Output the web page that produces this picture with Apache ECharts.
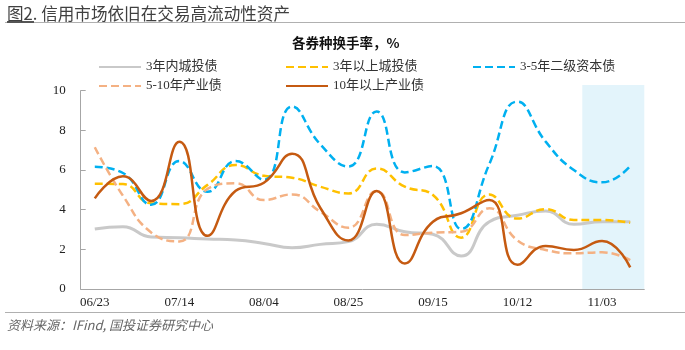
<!DOCTYPE html>
<html>
<head>
<meta charset="utf-8">
<script src="https://cdn.jsdelivr.net/npm/echarts@6/dist/echarts.min.js"></script>
<style>
html,body{margin:0;padding:0;background:#fff;}
#main{width:685px;height:350px;}
</style>
</head>
<body>
<div id="main"></div>
<script>
const categories = ['06/23','06/30','07/07','07/14','07/21','07/28','08/04','08/11','08/18','08/25','09/01','09/08','09/15','09/22','09/29','10/12','10/20','10/27','11/03','11/10'];
const cityShort = [3.03, 3.14, 2.62, 2.58, 2.52, 2.47, 2.30, 2.08, 2.25, 2.39, 3.26, 2.89, 2.76, 1.66, 3.39, 3.72, 3.93, 3.26, 3.39, 3.39];
const cityLong = [5.31, 5.29, 4.32, 4.28, 5.25, 6.25, 5.71, 5.61, 5.16, 4.82, 6.08, 5.16, 4.74, 2.59, 4.77, 3.55, 4.03, 3.48, 3.48, 3.34];
const tier2Capital = [6.17, 5.85, 4.25, 6.45, 4.90, 6.45, 5.50, 9.20, 7.30, 6.17, 8.95, 5.88, 6.20, 3.03, 6.30, 9.45, 7.43, 6.00, 5.38, 6.20];
const industryMid = [7.15, 4.70, 2.85, 2.40, 5.05, 5.33, 4.49, 4.77, 3.90, 3.09, 4.94, 2.72, 2.84, 2.89, 4.07, 2.45, 1.97, 1.80, 1.85, 1.46];
const industryLong = [4.57, 5.68, 4.44, 7.43, 2.68, 4.95, 5.36, 6.82, 4.10, 2.44, 4.94, 1.29, 3.39, 3.82, 4.49, 1.22, 2.17, 1.97, 2.42, 1.09];
const seriesNames = ['3年内城投债','3年以上城投债','3-5年二级资本债','5-10年产业债','10年以上产业债'];
const yTicks = [0, 2, 4, 6, 8, 10];
// highlighted period, in category-slot units along the x axis
const shadeFrom = 17.8, shadeTo = 20;

const serif = "'Liberation Serif','Noto Sans CJK SC',serif";
const chart = echarts.init(document.getElementById('main'));

function mk(name, data, color, dashed, width) {
  return {
    name: name, type: 'line', data: data, smooth: 0.5, symbol: 'none',
    lineStyle: { color: color, width: width, type: dashed ? [8, 4] : 'solid', cap: 'butt' },
    itemStyle: { color: color },
    z: 3
  };
}

const legendText = { fontFamily: serif, fontSize: 13, color: '#333' };
function legend(names, left) {
  return {
    data: names, left: left, top: 60.5, orient: 'vertical', itemGap: 6,
    itemWidth: 42, itemHeight: 14, padding: 0, textStyle: legendText, selectedMode: false,
    itemStyle: { opacity: 0 }
  };
}

chart.setOption({
  animation: false,
  title: [
    { text: '图2. 信用市场依旧在交易高流动性资产', left: 7, top: 5, padding: 0,
      textStyle: { fontFamily: "'Noto Sans CJK SC'", fontSize: 16.6, fontWeight: 'normal', color: '#404040' } },
    { text: '各券种换手率，%', left: 292, top: 36, padding: 0,
      textStyle: { fontFamily: "'Noto Sans CJK SC'", fontSize: 13.5, fontWeight: 'bold', color: '#111' } },
    { text: '资料来源：IFind, 国投证券研究中心', left: 7, top: 318.5, padding: 0,
      textStyle: { fontFamily: "'Noto Sans CJK SC'", fontSize: 13, fontStyle: 'italic', fontWeight: 'normal', color: '#666' } }
  ],
  graphic: [
    { type: 'line', shape: { x1: 5, y1: 22.5, x2: 685, y2: 22.5 }, style: { stroke: '#b0b0b0', lineWidth: 1 } },
    { type: 'line', shape: { x1: 7, y1: 22, x2: 34, y2: 22 }, style: { stroke: '#555', lineWidth: 2 } },
    { type: 'line', shape: { x1: 5, y1: 312.5, x2: 685, y2: 312.5 }, style: { stroke: '#b0b0b0', lineWidth: 1 } }
  ],
  legend: [
    legend(['3年内城投债', '5-10年产业债'], 98),
    legend(['3年以上城投债', '10年以上产业债'], 285),
    legend(['3-5年二级资本债'], 472)
  ],
  grid: [
    { left: 80.7, right: 40.7, top: 90.7, bottom: 61 },
    { left: 80.7, right: 40.7, top: 85, bottom: 61 }
  ],
  xAxis: [
    {
      type: 'category', data: categories, boundaryGap: true, z: 5, gridIndex: 0,
      axisLine: { lineStyle: { color: '#a6a6a6', width: 1 } },
      axisTick: { inside: true, length: 5, interval: 0, lineStyle: { color: '#a6a6a6' } },
      axisLabel: { interval: 2, margin: 7, fontFamily: serif, fontSize: 13, color: '#222' },
      splitLine: { show: false }
    },
    { type: 'value', min: 0, max: 20, show: false, gridIndex: 1 }
  ],
  yAxis: [
    {
      type: 'value', min: yTicks[0], max: yTicks[yTicks.length - 1], interval: 2, z: 5, gridIndex: 0,
      axisLine: { show: true, lineStyle: { color: '#a6a6a6', width: 1 } },
      axisTick: { show: true, inside: true, length: 5, lineStyle: { color: '#a6a6a6' } },
      axisLabel: { margin: 15, fontFamily: serif, fontSize: 13, color: '#222' },
      splitLine: { show: false }
    },
    { type: 'value', min: 0, max: 1, show: false, gridIndex: 1 }
  ],
  series: [
    { type: 'line', xAxisIndex: 1, yAxisIndex: 1, data: [], silent: true, z: 1,
      markArea: { silent: true, itemStyle: { color: '#E3F4FB' },
        data: [[{ coord: [shadeFrom, 1] }, { coord: [shadeTo, 0] }]] } },
    mk(seriesNames[0], cityShort, '#C9C9C9', false, 3),
    mk(seriesNames[1], cityLong, '#FFC000', true, 2.5),
    mk(seriesNames[2], tier2Capital, '#00B0F0', true, 2.5),
    mk(seriesNames[3], industryMid, '#F4B183', true, 2.5),
    mk(seriesNames[4], industryLong, '#C55A11', false, 2.5)
  ]
});
</script>
</body>
</html>
